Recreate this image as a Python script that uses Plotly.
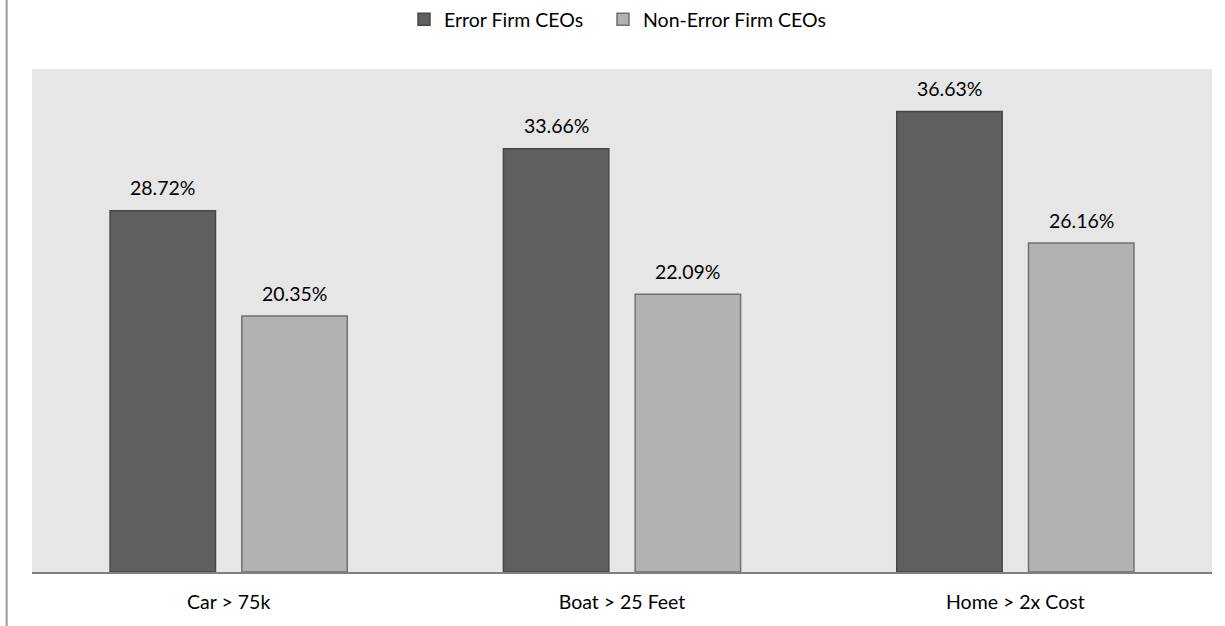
import plotly.graph_objects as go

categories = ["Car > 75k", "Boat > 25 Feet", "Home > 2x Cost"]
error_firm = [28.72, 33.66, 36.63]
non_error_firm = [20.35, 22.09, 26.16]
series_names = ["Error Firm CEOs", "Non-Error Firm CEOs"]

FONT = "Lato, 'Open Sans', sans-serif"
FS = 19.5

fig = go.Figure()
fig.add_trace(go.Bar(
    x=categories, y=error_firm, name=series_names[0], legend="legend",
    marker=dict(color="#5f5f5f", line=dict(color="#474747", width=1.5)),
))
fig.add_trace(go.Bar(
    x=categories, y=non_error_firm, name=series_names[1], legend="legend2",
    marker=dict(color="#b2b2b2", line=dict(color="#707070", width=1.5)),
))

bargap = 0.33
groupgap = 0.2
slot = (1 - bargap) / 2
annotations = []
for i, cat in enumerate(categories):
    for j, vals in enumerate([error_firm, non_error_firm]):
        xpos = i + (-slot / 2 if j == 0 else slot / 2)
        annotations.append(dict(
            x=xpos, y=vals[i], xref="x", yref="y",
            text=f"{vals[i]:.2f}%", showarrow=False,
            yshift=23, font=dict(size=FS, color="#000000", family=FONT),
        ))

legend_common = dict(
    orientation="h", y=1.0, yanchor="top", xanchor="left",
    xref="container", yref="container", font=dict(size=FS, family=FONT),
    itemwidth=30, bgcolor="rgba(0,0,0,0)",
)

fig.update_layout(
    width=1225, height=626,
    margin=dict(l=32, r=13, t=69, b=54),
    paper_bgcolor="white",
    plot_bgcolor="#e6e6e6",
    barmode="group",
    bargap=bargap,
    bargroupgap=groupgap,
    font=dict(family=FONT, size=FS, color="#000000"),
    showlegend=True,
    legend=dict(x=404 / 1225, **legend_common),
    legend2=dict(x=603 / 1225, **legend_common),
    xaxis=dict(
        showline=True, linecolor="#808080", linewidth=2,
        ticks="", showgrid=False, tickfont=dict(size=FS, family=FONT),
        ticklabelstandoff=12,
    ),
    yaxis=dict(
        range=[0, 40], visible=False, showgrid=False, zeroline=False,
    ),
    annotations=annotations,
    shapes=[dict(type="line", xref="paper", yref="paper",
                 x0=-0.0215, x1=-0.0215, y0=-0.2, y1=1.2,
                 line=dict(color="#999999", width=2))],
)

fig.write_html("out.html")
